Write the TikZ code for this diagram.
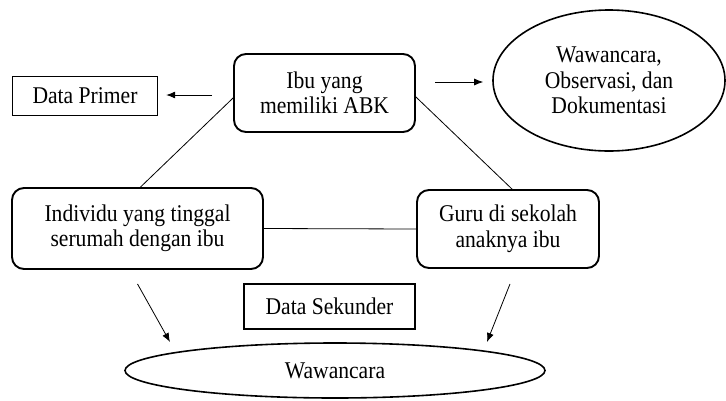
\documentclass[tikz,border=0pt]{standalone}
\usepackage{fontspec}
\setmainfont[FakeStretch=0.9]{Liberation Serif}
\usetikzlibrary{shapes.geometric,arrows.meta,calc}
\begin{document}
\begin{tikzpicture}[x=1pt,y=-1pt,
  txt/.style={font=\fontsize{24}{25.5}\selectfont, align=center, inner sep=0pt},
  plainbox/.style={txt, draw, line width=1.4pt},
  roundbox/.style={txt, draw, line width=1.9pt, rounded corners=12pt},
  oval/.style={txt, draw, ellipse, line width=1.6pt},
  conn/.style={line width=0.8pt},
  arr/.style={conn, -{Latex[length=9pt,width=7pt]}}
]
\useasboundingbox (0,0) rectangle (726,400);

\node[plainbox, minimum width=145pt, minimum height=39pt] (dp) at (85,96) {Data Primer};
\node[roundbox, minimum width=181pt, minimum height=78pt] (ibu) at (324.5,93) {Ibu yang\\memiliki ABK};
\node[oval, minimum width=232pt, minimum height=141pt] (obs) at (609,80.5) {Wawancara,\\Observasi, dan\\Dokumentasi};
\node[roundbox, minimum width=251pt, minimum height=81pt] (ind) at (137.5,228.5) {Individu yang tinggal\\serumah dengan ibu};
\node[roundbox, minimum width=182pt, minimum height=78pt] (guru) at (508,229) {Guru di sekolah\\anaknya ibu};
\node[plainbox, minimum width=171pt, minimum height=45pt] (ds) at (329.5,306.5) {Data Sekunder};
\node[oval, minimum width=420pt, minimum height=55pt] (waw) at (335,370.5) {Wawancara};

% arrows near top
\coordinate (a1) at (212,95);
\draw[arr, shorten >=8pt] (a1) -- (dp.east |- a1);
\coordinate (a2) at (435,82);
\draw[arr, shorten >=9pt] (a2) -- (obs.west |- a2);

% triangle lines
\draw[conn] ($(ibu.west)+(0,5)$) -- ($(ind.north)+(3,0)$);
\draw[conn] ($(ibu.east)+(0,4)$) -- ($(guru.north)+(4,0)$);
\draw[conn] (ind.east) -- (guru.west);

% arrows to bottom ellipse
\coordinate (b1) at (170,342);
\coordinate (b2) at (487,342);
\draw[arr] ($(ind.south)+(0,14)$) -- (b1);
\draw[arr] ($(guru.south)+(2,15)$) -- (b2);
\end{tikzpicture}
\end{document}
